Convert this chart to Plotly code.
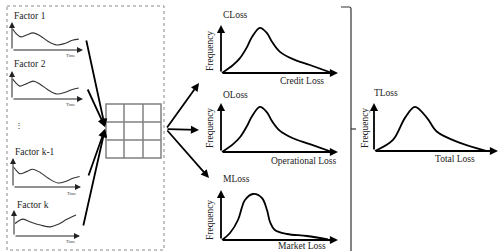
import plotly.graph_objects as go

W, H = 501, 251
FONT = "'Liberation Serif', 'Times New Roman', 'DejaVu Serif', serif"

# ---------------- data ----------------
factor_names = ["Factor 1", "Factor 2", "Factor k-1", "Factor k"]
time_label = "Time"
f1_t = [0.1, 0.6, 1.2, 2.0, 3.0, 4.0, 5.0, 6.3, 7.5, 8.5, 9.4]
f1_v = [7.5, 5.8, 4.7, 5.3, 6.1, 5.0, 3.2, 1.8, 2.4, 3.5, 3.9]
f2_t = [0.1, 0.6, 1.1, 2.0, 3.0, 4.0, 5.0, 6.3, 7.5, 8.5, 9.4]
f2_v = [7.1, 5.6, 4.6, 5.4, 6.4, 5.2, 3.4, 1.8, 2.4, 3.4, 3.9]
fk1_t = [0.1, 0.6, 1.0, 2.0, 2.9, 4.0, 5.2, 6.6, 7.8, 8.8, 9.8]
fk1_v = [6.8, 5.4, 4.6, 5.3, 6.1, 5.0, 3.0, 1.4, 2.0, 3.0, 3.6]
fk_t = [0.15, 0.8, 1.4, 2.5, 4.0, 5.5, 6.8, 8.0, 9.4]
fk_v = [4.8, 6.0, 6.5, 5.4, 4.2, 3.5, 4.6, 6.4, 8.1]
factor_series = [(f1_t, f1_v), (f2_t, f2_v), (fk1_t, fk1_v), (fk_t, fk_v)]

loss_titles = ["CLoss", "OLoss", "MLoss", "TLoss"]
loss_xlabels = ["Credit Loss", "Operational Loss", "Market Loss", "Total Loss"]
freq_label = "Frequency"
closs_x = [0.09, 1.03, 1.62, 2.22, 2.65, 3.33, 3.93, 4.36, 5.04, 6.15, 7.6, 9.5]
closs_y = [0.0, 1.67, 3.1, 5.4, 7.5, 9.4, 8.3, 6.5, 4.4, 2.9, 1.67, 0.0]
oloss_x = [0.09, 1.03, 1.62, 2.22, 2.65, 3.33, 3.93, 4.36, 5.04, 6.15, 7.6, 9.5]
oloss_y = [0.0, 1.6, 3.0, 5.3, 7.3, 9.2, 8.1, 6.3, 4.3, 2.8, 1.6, 0.0]
mloss_x = [0.09, 0.77, 1.45, 1.8, 2.05, 2.74, 3.5, 3.93, 4.19, 4.6, 5.64, 7.35, 9.15]
mloss_y = [0.0, 1.4, 4.0, 6.6, 8.0, 9.2, 8.4, 6.0, 3.6, 2.0, 1.2, 0.8, 0.1]
tloss_x = [0.08, 1.53, 2.5, 3.3, 4.27, 5.08, 6.94, 9.1]
tloss_y = [0.0, 2.3, 6.9, 9.2, 6.9, 4.0, 1.7, 0.0]
loss_series = [(closs_x, closs_y), (oloss_x, oloss_y), (mloss_x, mloss_y), (tloss_x, tloss_y)]

# ---------------- layout (pixel boxes: left, right, top, bottom) ----------------
factor_boxes = [(12, 83, 22, 50), (12, 83, 71, 99), (13, 81, 158, 187), (14, 80, 210, 236)]
factor_label_pos = [(12, 16), (12, 64), (13, 152), (15, 205)]
time_pos = [(70, 55), (70, 104), (71, 193), (70, 241)]
loss_boxes = [(221, 338, 25, 73), (221, 338, 103, 152), (221, 338, 190, 240), (374, 498, 103, 151)]
loss_title_pos = [(221, 15), (221, 95), (221, 179), (372, 93)]
loss_xlabel_pos = [(302, 81), (303, 161), (302, 246), (455, 159)]
freq_pos = [(210, 51), (210, 128), (210, 220), (365, 128)]

fig = go.Figure()
layout = dict(
    width=W, height=H, margin=dict(l=0, r=0, t=0, b=0),
    paper_bgcolor="white", plot_bgcolor="rgba(0,0,0,0)", showlegend=False,
    font=dict(family=FONT),
    xaxis=dict(domain=[0, 1], range=[0, W], visible=False, fixedrange=True),
    yaxis=dict(domain=[0, 1], range=[H, 0], visible=False, fixedrange=True),
)
annotations = []
shapes = []


def dom(l, r, t, b):
    return [l / W, r / W], [1 - b / H, 1 - t / H]


def axis_arrows(i, w, size, color):
    xr, yr = f"x{i}", f"y{i}"
    for (x, y) in [(10, 0), (0, 10)]:
        annotations.append(dict(
            x=x, y=y, ax=0, ay=0, xref=xr, yref=yr, axref=xr, ayref=yr,
            text="", showarrow=True, arrowhead=2, arrowsize=size,
            arrowwidth=w, arrowcolor=color, standoff=0, startstandoff=0))


def text(x, y, s, size=10, xanchor="left", angle=0, color="#222"):
    annotations.append(dict(x=x, y=y, xref="x", yref="y", text=s, showarrow=False,
                            xanchor=xanchor, yanchor="middle", textangle=angle,
                            font=dict(family=FONT, size=size, color=color)))


idx = 2
for k, ((t, v), box) in enumerate(zip(factor_series, factor_boxes)):
    xd, yd = dom(*box)
    layout[f"xaxis{idx}"] = dict(domain=xd, range=[0, 10], visible=False, anchor=f"y{idx}", fixedrange=True)
    layout[f"yaxis{idx}"] = dict(domain=yd, range=[0, 10], visible=False, anchor=f"x{idx}", fixedrange=True)
    fig.add_trace(go.Scatter(x=t, y=v, xaxis=f"x{idx}", yaxis=f"y{idx}", mode="lines",
                             line=dict(color="#333", width=1.1, shape="spline", smoothing=1.0),
                             cliponaxis=False, hoverinfo="skip"))
    axis_arrows(idx, 1.0, 1.2, "#222")
    lx, ly = factor_label_pos[k]
    text(lx, ly, factor_names[k], size=9.5)
    tx, ty = time_pos[k]
    text(tx, ty, time_label, size=4.5, xanchor="center", color="#444")
    idx += 1

for k, ((x, y), box) in enumerate(zip(loss_series, loss_boxes)):
    xd, yd = dom(*box)
    layout[f"xaxis{idx}"] = dict(domain=xd, range=[0, 10], visible=False, anchor=f"y{idx}", fixedrange=True)
    layout[f"yaxis{idx}"] = dict(domain=yd, range=[0, 10], visible=False, anchor=f"x{idx}", fixedrange=True)
    fig.add_trace(go.Scatter(x=x, y=y, xaxis=f"x{idx}", yaxis=f"y{idx}", mode="lines",
                             line=dict(color="black", width=1.8, shape="spline", smoothing=1.0),
                             cliponaxis=False, hoverinfo="skip"))
    axis_arrows(idx, 1.8, 0.9, "black")
    tx, ty = loss_title_pos[k]
    text(tx, ty, loss_titles[k], size=9.5)
    lx, ly = loss_xlabel_pos[k]
    text(lx, ly, loss_xlabels[k], size=9.5, xanchor="center")
    fx, fy = freq_pos[k]
    text(fx, fy, freq_label, size=9.5, xanchor="center", angle=-90)
    idx += 1

# vertical ellipsis between factor 2 and factor k-1
text(19, 125, "⋮", size=8, xanchor="center")

# dotted frame around the factors
shapes.append(dict(type="rect", xref="x", yref="y", x0=7, y0=6, x1=164, y1=250,
                   line=dict(color="#888", width=1, dash="dot")))

# 3x3 grid
gl, gr, gt, gb = 106, 161, 104, 158
shapes.append(dict(type="rect", xref="x", yref="y", x0=gl, y0=gt, x1=gr, y1=gb,
                   line=dict(color="#808080", width=1.5)))
for gx in [124, 143]:
    shapes.append(dict(type="line", xref="x", yref="y", x0=gx, y0=gt, x1=gx, y1=gb,
                       line=dict(color="#808080", width=1.5)))
for gy in [122, 140]:
    shapes.append(dict(type="line", xref="x", yref="y", x0=gl, y0=gy, x1=gr, y1=gy,
                       line=dict(color="#808080", width=1.5)))


def arrow(x0, y0, x1, y1, w=1.8, size=0.9):
    annotations.append(dict(x=x1, y=y1, ax=x0, ay=y0, xref="x", yref="y", axref="x", ayref="y",
                            text="", showarrow=True, arrowhead=2, arrowsize=size, arrowwidth=w,
                            arrowcolor="black", standoff=0, startstandoff=0))


# factors -> grid
arrow(86, 39, 105, 127)
arrow(87, 88, 105, 127)
arrow(88, 177, 105, 129)
arrow(83, 227, 105, 129)
# grid -> loss distributions
arrow(166, 129, 199, 83)
arrow(166, 129, 199, 130)
arrow(166, 129, 209, 178)

# bracket
bl = dict(color="#333", width=1.2)
shapes.append(dict(type="path", xref="x", yref="y",
                   path="M 341 7 L 349 7 Q 351 7 351 9 L 351 251", line=bl))
shapes.append(dict(type="line", xref="x", yref="y", x0=351, y0=129, x1=356, y1=129, line=bl))

layout["annotations"] = annotations
layout["shapes"] = shapes
fig.update_layout(**layout)
fig.write_html("out.html", config={"displayModeBar": False},
               post_script="document.body.style.margin='0';document.body.style.overflow='hidden';")
